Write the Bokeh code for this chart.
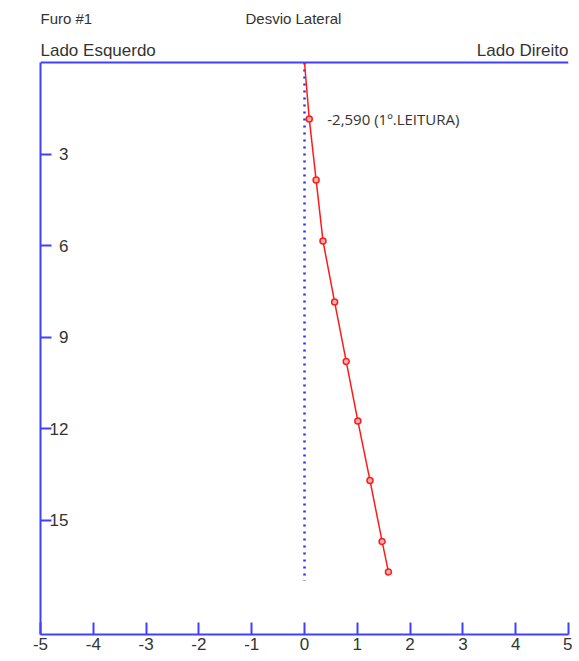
from bokeh.plotting import figure
from bokeh.models import LinearAxis, FixedTicker, Range1d, Label, ColumnDataSource, Span
from bokeh.embed import file_html
from bokeh.resources import INLINE

# ---- data ----
depth = [0, 1.85, 3.85, 5.85, 7.85, 9.8, 11.75, 13.7, 15.7, 16.7]
deviation = [0, 0.09, 0.22, 0.35, 0.57, 0.79, 1.01, 1.24, 1.47, 1.59]
x_ticks = [-5, -4, -3, -2, -1, 0, 1, 2, 3, 4, 5]
depth_ticks = [3, 6, 9, 12, 15]
ref_x = [0, 0]
ref_depth = [0, 17.0]
depth_max = 18.75
first_reading_label = "-2,590 (1º.LEITURA)"

BLUE = "#4040ff"
RED = "#ff1a1a"
TXT = "#333333"
FONT = "Liberation Sans"

p = figure(width=572, height=658, output_backend="svg", toolbar_location=None,
           x_range=Range1d(-5, 5), y_range=Range1d(-depth_max, 2.032),
           x_axis_type=None, y_axis_type=None,
           min_border_left=40, min_border_right=4, min_border_top=0, min_border_bottom=24)
p.outline_line_color = None
p.grid.visible = False
p.background_fill_color = "white"
p.border_fill_color = "white"

# bottom axis
xa = LinearAxis(ticker=FixedTicker(ticks=x_ticks, minor_ticks=[]))
xa.axis_line_color = BLUE
xa.axis_line_width = 2
xa.major_tick_line_color = BLUE
xa.major_tick_line_width = 2
xa.major_tick_in = 12
xa.major_tick_out = 0
xa.minor_tick_line_color = None
xa.major_label_overrides = {t: str(t) for t in x_ticks}
xa.major_label_text_font = FONT
xa.major_label_text_font_size = "17px"
xa.major_label_text_color = TXT
xa.major_label_standoff = 3
p.add_layout(xa, "below")

# left axis (labels drawn inside the frame)
ya = LinearAxis(ticker=FixedTicker(ticks=[-d for d in depth_ticks], minor_ticks=[]),
                bounds=(-depth_max, 0))
ya.axis_line_color = BLUE
ya.axis_line_width = 2
ya.major_tick_line_color = BLUE
ya.major_tick_line_width = 2
ya.major_tick_in = 11
ya.major_tick_out = 0
ya.minor_tick_line_color = None
ya.major_label_overrides = {-d: str(d) for d in depth_ticks}
ya.major_label_text_font = FONT
ya.major_label_text_font_size = "17px"
ya.major_label_text_color = TXT
ya.major_label_standoff = -28
p.add_layout(ya, "left")

# top line
p.add_layout(Span(location=0, dimension="width", line_color=BLUE, line_width=2))

# reference (zero) line
p.line(ref_x, [-d for d in ref_depth], line_color="#2a2aff", line_width=2.5, line_dash="2 5")

# survey line
src = ColumnDataSource(dict(x=deviation, y=[-d for d in depth]))
p.line("x", "y", source=src, line_color=RED, line_width=1.5)
msrc = ColumnDataSource(dict(x=deviation[1:], y=[-d for d in depth[1:]]))
p.scatter("x", "y", source=msrc, marker="circle", size=6, line_color=RED, line_width=1.5,
          fill_color="#ffb0b0")

p.add_layout(Label(x=deviation[1], y=-depth[1], x_offset=18, text=first_reading_label,
                   text_baseline="middle", text_font="Open Sans", text_font_size="15px",
                   text_color=TXT))

# header texts
def head(txt, x, off_x, off_y, size, align="left"):
    p.add_layout(Label(x=x, y=0, x_offset=off_x, y_offset=off_y, text=txt,
                       text_baseline="middle", text_align=align, text_font=FONT,
                       text_font_size=size, text_color=TXT))

head("Furo #1", -5, 0, 44, "15px")
head("Desvio Lateral", -5, 205, 44, "15px")
head("Lado Esquerdo", -5, 0, 12, "17px")
head("Lado Direito", 5, 0, 12, "17px", align="right")

open("out.html", "w").write(file_html(p, INLINE))
